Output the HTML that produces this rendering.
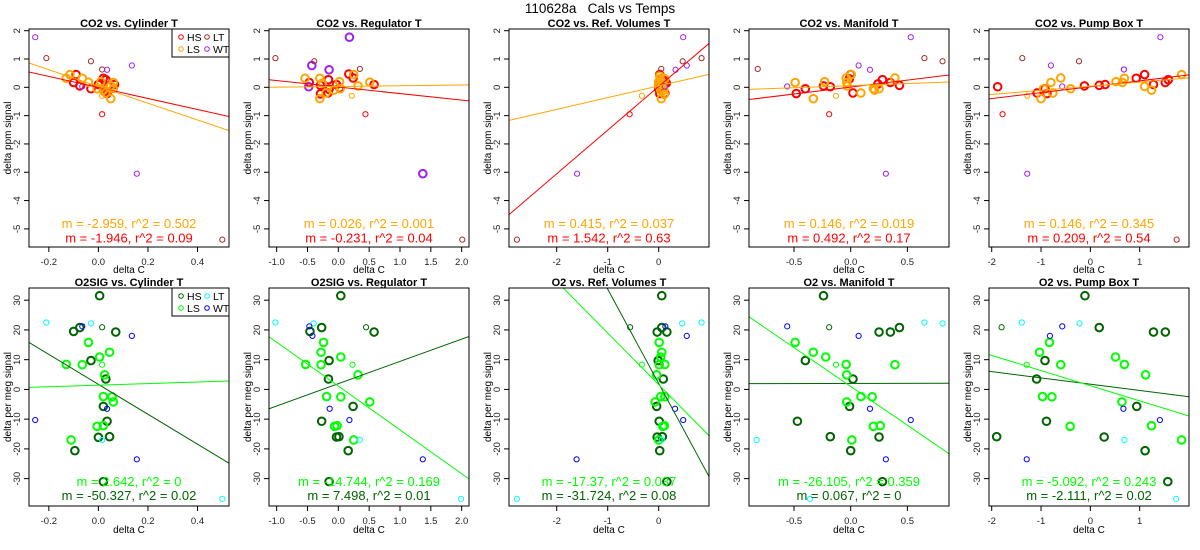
<!DOCTYPE html>
<html><head><meta charset="utf-8"><style>
html,body{margin:0;padding:0;background:#fff;}
svg{display:block;font-family:"Liberation Sans",sans-serif;}
</style></head><body>
<svg id="chart" width="1200" height="550" viewBox="0 0 1200 550"></svg>
<script>
// ---- data ----
// point tuples: [deltaC, signal, group]; groups: 0 HS-big,1 LS-big,2 HS-small,3 LS-small,4 LT,5 WT,6 WT-big
const panelTitles = ["CO2 vs. Cylinder T","CO2 vs. Regulator T","CO2 vs. Ref. Volumes T","CO2 vs. Manifold T","CO2 vs. Pump Box T",
 "O2SIG vs. Cylinder T","O2SIG vs. Regulator T","O2 vs. Ref. Volumes T","O2 vs. Manifold T","O2 vs. Pump Box T"];
const xLimits = [[-0.28,0.527],[-1.124,2.119],[-2.935,0.986],[-0.897,0.867],[-2.055,2.0]];
const xTicks = [[-0.2,0,0.2,0.4],[-1,-0.5,0,0.5,1,1.5,2],[-2,-1,0],[-0.5,0,0.5],[-2,-1,0,1]];
const xTickLabels = [["-0.2","0.0","0.2","0.4"],["-1.0","-0.5","0.0","0.5","1.0","1.5","2.0"],["-2","-1","0"],["-0.5","0.0","0.5"],["-2","-1","0","1"]];
const yLimitsTop = [-5.64,2.06];
const yLimitsBottom = [-39.2,34.1];
const yTicksTop = [-5,-4,-3,-2,-1,0,1,2];
const yTicksBottom = [-30,-20,-10,0,10,20,30];
const fitsHS = [[-1.946,-0.005],[-0.231,0.01],[1.542,0.03],[0.492,0.01],[0.209,0.02],[-50.327,1.7],[7.498,1.93],[-31.724,2.0],[0.067,2.0],[-2.111,1.76]];
const fitsLS = [[-2.959,0.03],[0.026,0.03],[0.415,0.05],[0.146,0.06],[0.146,0.04],[2.642,1.44],[-14.744,1.13],[-17.37,1.6],[-26.105,1.0],[-5.092,1.24]];
const labelsLS = ["m = -2.959, r^2 = 0.502","m = 0.026, r^2 = 0.001","m = 0.415, r^2 = 0.037","m = 0.146, r^2 = 0.019","m = 0.146, r^2 = 0.345",
 "m = 2.642, r^2 = 0","m = -14.744, r^2 = 0.169","m = -17.37, r^2 = 0.037","m = -26.105, r^2 = 0.359","m = -5.092, r^2 = 0.243"];
const labelsHS = ["m = -1.946, r^2 = 0.09","m = -0.231, r^2 = 0.04","m = 1.542, r^2 = 0.63","m = 0.492, r^2 = 0.17","m = 0.209, r^2 = 0.54",
 "m = -50.327, r^2 = 0.02","m = 7.498, r^2 = 0.01","m = -31.724, r^2 = 0.08","m = 0.067, r^2 = 0","m = -2.111, r^2 = 0.02"];
const points1 = [[-0.1,0.17,0],[-0.09,0.45,0],[-0.075,0.05,0],[-0.03,-0.05,0],[0,0.1,0],[0.02,0.32,0],[0.03,0.27,0],[0.035,-0.22,0],[0.04,0.05,0],[0.065,0.1,0],[0.025,-0.15,0],
 [-0.13,0.32,1],[-0.115,0.45,1],[-0.065,0.32,1],[-0.04,0.18,1],[-0.005,-0.05,1],[0.01,0.2,1],[0.02,-0.1,1],[0.05,-0.4,1],[0.06,0.17,1],[0.06,-0.05,1],[0.03,-0.2,1],[0.05,0.05,1],
 [0.015,-0.3,3],[0.015,-0.95,2],[-0.21,1.03,4],[-0.03,0.92,4],[0.015,0.63,4],[0.5,-5.38,4],[-0.255,1.77,5],[0.035,0.62,5],[0.135,0.77,5],[0.155,-3.05,5],[-0.065,0.03,5]];
const points2 = [[-0.47,0.17,0],[-0.29,-0.23,0],[-0.29,0.07,0],[-0.16,0.27,0],[-0.17,-0.2,0],[-0.15,-0.07,0],[-0.03,0.1,0],[0.17,0.47,0],[0.24,0.33,0],[0.58,0.1,0],[0.02,-0.02,0],
 [-0.54,0.32,1],[-0.3,0.32,1],[-0.3,-0.4,1],[-0.26,0.15,1],[-0.2,-0.2,1],[-0.07,-0.1,1],[0.02,0.2,1],[0.03,-0.05,1],[0.25,0.45,1],[0.32,0.05,1],[0.51,0.18,1],
 [-0.43,0.77,6],[-0.15,0.62,6],[0.18,1.77,6],[1.37,-3.05,6],[-0.48,0.02,6],
 [-1.02,1.03,4],[-0.39,0.92,4],[0.35,0.65,4],[2.01,-5.38,4],[0.22,-0.3,3],[0.44,-0.95,2]];
const points3 = [[0,0.1,0],[0.02,0.45,0],[0.02,-0.22,0],[0.05,0.3,0],[0.1,0.25,0],[0.13,0.2,0],[0.15,0.15,0],[0,-0.05,0],[0.08,0.05,0],[0.12,-0.2,0],[0.06,0.1,0],
 [0,0.2,1],[0.02,0.4,1],[0.03,0.3,1],[0.05,-0.4,1],[0.08,0.1,1],[0.1,-0.1,1],[0.12,0.3,1],[0.04,-0.1,1],[0,0.05,1],[0.07,0.17,1],[0.11,-0.25,1],
 [-2.78,-5.38,4],[0.05,0.65,4],[0.47,0.92,4],[0.84,1.03,4],[-0.57,-0.95,2],[-0.33,-0.3,3],
 [-1.6,-3.05,5],[0.33,0.62,5],[0.48,1.77,5],[0.55,0.77,5],[0.12,0.03,5]];
const points4 = [[-0.48,-0.22,0],[-0.4,-0.05,0],[-0.24,0.05,0],[-0.18,0.02,0],[-0.012,0.3,0],[0,0.45,0],[0.02,-0.2,0],[0.24,0.12,0],[0.28,0.27,0],[0.35,0.17,0],[0.43,0.07,0],
 [-0.49,0.17,1],[-0.33,-0.4,1],[-0.23,0.2,1],[-0.04,0.33,1],[-0.035,0.17,1],[-0.03,0.05,1],[0.005,0.45,1],[0.09,-0.2,1],[0.2,-0.05,1],[0.21,-0.1,1],[0.25,-0.05,1],[0.39,0.33,1],
 [-0.19,-0.95,2],[-0.13,-0.3,3],[-0.82,0.65,4],[0.65,1.03,4],[0.81,0.92,4],
 [-0.56,0.03,5],[0.07,0.77,5],[0.17,0.62,5],[0.31,-3.05,5],[0.53,1.77,5]];
const points5 = [[-1.88,0.02,0],[-1.08,-0.2,0],[-0.88,-0.22,0],[-0.92,-0.05,0],[-0.12,0.05,0],[0.18,0.07,0],[0.3,0.1,0],[0.93,0.32,0],[1.1,0.45,0],[1.28,0.1,0],[1.52,0.17,0],[1.58,0.27,0],
 [-1,-0.4,1],[-0.95,-0.05,1],[-0.8,0.17,1],[-0.76,-0.2,1],[-0.6,0.33,1],[-0.4,-0.05,1],[0.52,0.2,1],[0.65,0.17,1],[0.69,0.32,1],[1.1,0.03,1],[1.24,-0.1,1],[1.85,0.45,1],
 [-1.28,-0.3,3],[-1.78,-0.95,2],[-1.38,1.03,4],[-0.23,0.92,4],[0.68,0.63,4],[1.75,-5.38,4],
 [-0.8,0.77,5],[-1.28,-3.05,5],[-0.57,0.03,5],[0.68,0.63,5],[1.42,1.77,5]];
const points6 = [[0.005,31.5,0],[-0.1,19.5,0],[-0.075,20.8,0],[-0.03,9.7,0],[0.07,19.3,0],[0.03,3.5,0],[0.02,-5.7,0],[0.035,-10.7,0],[0,-16.1,0],[0.045,-15.9,0],[-0.095,-20.6,0],[0.02,-31,0],
 [-0.04,15.8,1],[0.005,10.9,1],[0.045,12.5,1],[-0.13,8.4,1],[-0.065,8.3,1],[0.025,4.9,1],[0.02,-2.4,1],[0.055,-2.5,1],[0.06,-4.2,1],[-0.005,-12.4,1],[0.02,-12.2,1],[-0.11,-17,1],
 [0.015,20.9,2],[0.015,8.3,3],[-0.21,22.5,4],[-0.03,22.2,4],[0.015,-17,4],[0.5,-36.8,4],
 [-0.065,21.2,5],[0.135,18,5],[0.035,-6.5,5],[0.155,-23.5,5],[-0.255,-10.3,5]];
const points7 = [[0.04,31.5,0],[-0.46,19.5,0],[-0.27,20.8,0],[-0.15,9.7,0],[0.58,19.3,0],[-0.16,3.5,0],[0.24,-5.7,0],[-0.27,-10.7,0],[-0.03,-16,0],[0.01,-15.9,0],[0.16,-20.6,0],[-0.15,-31,0],
 [-0.24,15.8,1],[0.04,10.9,1],[-0.28,12.5,1],[-0.53,8.4,1],[-0.28,8.3,1],[0.32,4.9,1],[-0.19,-2.4,1],[0.04,-2.5,1],[0.51,-4.2,1],[-0.06,-12.4,1],[-0.02,-12.2,1],[0.25,-17,1],
 [0.45,20.9,2],[0.23,8.3,3],[-1.02,22.5,4],[-0.4,22.2,4],[0.35,-17,4],[1.99,-36.8,4],
 [-0.47,21.2,5],[-0.42,18,5],[-0.14,-6.5,5],[0.18,-10.3,5],[1.37,-23.5,5]];
const points8 = [[0.06,31.5,0],[-0.03,19.3,0],[0.06,20.8,0],[0.16,19.3,0],[-0.01,9.7,0],[0.09,3.5,0],[-0.04,-5.7,0],[0.01,-10.7,0],[-0.03,-16,0],[0.07,-15.9,0],[0.02,-20.6,0],[0.16,-31,0],
 [0.01,15.8,1],[0.04,10.9,1],[0.06,12.5,1],[0.01,8.3,1],[0.12,8.4,1],[-0.04,4.9,1],[0.04,-2.4,1],[0.12,-2.5,1],[-0.07,-4.2,1],[0.08,-12.4,1],[0.11,-12.2,1],[0,-17,1],
 [-0.56,20.9,2],[-0.33,8.3,3],[-2.78,-36.8,4],[0.06,-17,4],[0.46,22.2,4],[0.84,22.5,4],
 [-1.61,-23.5,5],[0.13,21.2,5],[0.32,-6.5,5],[0.48,-10.3,5],[0.55,18,5]];
const points9 = [[-0.24,31.5,0],[-0.4,9.7,0],[0.25,19.3,0],[0.35,19.3,0],[0.43,20.8,0],[0.02,3.5,0],[-0.01,-5.7,0],[-0.47,-10.7,0],[-0.18,-15.9,0],[0.25,-16,0],[0,-20.6,0],[0.28,-31,0],
 [-0.49,15.8,1],[-0.33,12.5,1],[-0.22,10.9,1],[-0.04,8.4,1],[-0.035,4.9,1],[0.39,8.3,1],[0.09,-2.4,1],[0.19,-2.5,1],[-0.035,-4.2,1],[0.2,-12.4,1],[0.26,-12.2,1],[0.01,-17,1],
 [-0.19,20.9,2],[-0.13,8.3,3],[-0.83,-17,4],[-0.36,-36.8,4],[0.65,22.5,4],[0.81,22.2,4],
 [-0.56,21.2,5],[0.07,18,5],[0.17,-6.5,5],[0.53,-10.3,5],[0.31,-23.5,5]];
const points10 = [[-0.11,31.5,0],[-1.9,-15.9,0],[-0.92,9.7,0],[-1.09,3.5,0],[-0.89,-10.7,0],[0.18,20.8,0],[0.28,-16,0],[0.94,-5.7,0],[1.11,-20.6,0],[1.28,19.3,0],[1.52,19.3,0],[1.57,-31,0],
 [-0.83,15.8,1],[-1.03,12.5,1],[-0.6,8.3,1],[-0.97,-2.4,1],[-0.78,-2.5,1],[-0.41,-12.4,1],[0.51,10.9,1],[0.69,8.4,1],[0.64,-4.2,1],[1.12,4.9,1],[1.24,-12.2,1],[1.85,-17,1],
 [-1.8,20.9,2],[-1.29,8.3,3],[-1.39,22.5,4],[-0.22,22.2,4],[0.69,-17,4],[1.74,-36.8,4],
 [-0.82,18,5],[-0.57,21.2,5],[-1.29,-23.5,5],[0.67,-6.5,5],[1.41,-10.3,5]];
const allPoints = [points1,points2,points3,points4,points5,points6,points7,points8,points9,points10];
const legendLabels = ["HS","LS","LT","WT"];

// ---- drawing ----
const NS = "http://www.w3.org/2000/svg";
const svg = document.getElementById('chart');
function mk(tag, attrs, parent, text){
  const e = document.createElementNS(NS, tag);
  for (const k in attrs) e.setAttribute(k, attrs[k]);
  if (text !== undefined) e.textContent = text;
  (parent||svg).appendChild(e);
  return e;
}
const topColors = {HS:"#ff0000", LS:"#ffa500", LT:"#a52a2a", WT:"#a020f0"};
const botColors = {HS:"#006400", LS:"#00ff00", LT:"#00ffff", WT:"#0000ff"};
const t = mk('text',{x:600,y:13,'text-anchor':'middle','font-size':13.5,style:'white-space:pre'}, svg, "110628a   Cals vs Temps");



for (let p = 0; p < 10; p++){
  const row = p < 5 ? 0 : 1, col = p % 5;
  const off = col * 240;
  const L = off + 29, R = off + 229;
  const T = row ? 288 : 29, B = row ? 506 : 247;
  const xl = xLimits[col], yl = row ? yLimitsBottom : yLimitsTop;
  const sx = v => L + (v - xl[0]) / (xl[1] - xl[0]) * (R - L);
  const sy = v => B - (v - yl[0]) / (yl[1] - yl[0]) * (B - T);
  const colors = row ? botColors : topColors;
  const g = mk('g', {});
  
  
  const cid = 'clip' + p;
  const cp = mk('clipPath', {id: cid}, g);
  mk('rect', {x:L, y:T, width:R-L, height:B-T}, cp);
  const title = mk('text', {x:(L+R)/2, y:T-2, 'text-anchor':'middle', 'font-size':11, 'font-weight':'bold'}, g, panelTitles[p]);
  
  
  const yt = row ? yTicksBottom : yTicksTop;
  const yax = mk('g', {}, g);
  
  
  mk('line', {x1:L, x2:L, y1:sy(yt[0]), y2:sy(yt[yt.length-1]), stroke:'#000'}, yax);
  yt.forEach(v => {
    const y = sy(v);
    mk('line', {x1:L-5, x2:L, y1:y, y2:y, stroke:'#000'}, yax);
    mk('text', {x:L-9, y:y, 'text-anchor':'middle', 'font-size':9.5, fill:'#222', transform:`rotate(-90 ${L-9} ${y})`}, yax, String(v));
  });
  const ylab = mk('text', {x:off+11, y:(T+B)/2, 'text-anchor':'middle', 'font-size':10, transform:`rotate(-90 ${off+11} ${(T+B)/2})`}, g, row ? "delta per meg signal" : "delta ppm signal");
  
  
  const xt = xTicks[col];
  const xax = mk('g', {}, g);
  
  
  mk('line', {x1:sx(xt[0]), x2:sx(xt[xt.length-1]), y1:B, y2:B, stroke:'#000'}, xax);
  xt.forEach((v, i) => {
    const x = sx(v);
    mk('line', {x1:x, x2:x, y1:B, y2:B+5, stroke:'#000'}, xax);
    mk('text', {x:x, y:B+18, 'text-anchor':'middle', 'font-size':9.5, fill:'#222'}, xax, xTickLabels[col][i]);
  });
  const xlab = mk('text', {x:(L+R)/2, y:B+(row?27:26), 'text-anchor':'middle', 'font-size':10}, g, "delta C");
  
  
  const pg = mk('g', {}, g);
  
  
  allPoints[p].forEach(pt => {
    const gr = pt[2];
    const key = ['HS','LS','HS','LS','LT','WT','WT'][gr];
    const big = (gr === 0 || gr === 1 || gr === 6);
    const c = mk('circle', {cx:sx(pt[0]), cy:sy(pt[1]), r: big ? 3.8 : 2.6, fill:'none', stroke:colors[key], 'stroke-width': big ? 2 : 1}, pg);
    
    
  });
  [[fitsHS[p], colors.HS, 'fit-line-hs'], [fitsLS[p], colors.LS, 'fit-line-ls']].forEach(f => {
    const m = f[0][0], b = f[0][1];
    const ln = mk('line', {x1:sx(xl[0]), y1:sy(m*xl[0]+b), x2:sx(xl[1]), y2:sy(m*xl[1]+b), stroke:f[1], 'stroke-width':1, 'clip-path':`url(#${cid})`}, g);
    
    
  });
  const a1 = mk('text', {x:(L+R)/2, y: row ? 486 : 228, 'text-anchor':'middle', 'font-size':13, fill:colors.LS}, g, labelsLS[p]);
  
  
  const a2 = mk('text', {x:(L+R)/2, y: row ? 500 : 242.5, 'text-anchor':'middle', 'font-size':13, fill:colors.HS}, g, labelsHS[p]);
  
  
  mk('rect', {x:L, y:T, width:R-L, height:B-T, fill:'none', stroke:'#000', 'stroke-width':1}, g);
  if (col === 0){
    const lg = mk('g', {}, g);
    
    
    mk('rect', {x:172, y:T, width:R-172, height:28, fill:'#fff', stroke:'#000'}, lg);
    legendLabels.forEach((lab, i) => {
      const lx = 172 + (i >= 2 ? 32 : 6), ly = T + 8 + (i % 2) * 12;
      const e = mk('g', {}, lg);
      
      
      mk('circle', {cx:lx+3, cy:ly, r:2.3, fill:'none', stroke:colors[lab]}, e);
      mk('text', {x:lx+9, y:ly+4, 'font-size':10.5}, e, lab);
    });
  }
}
</script>
</body></html>
